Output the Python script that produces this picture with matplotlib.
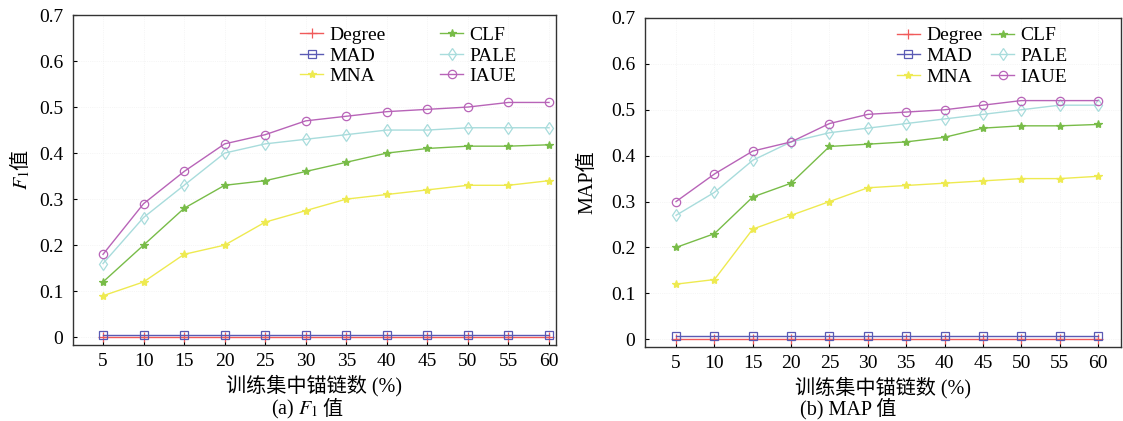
import matplotlib
matplotlib.use('Agg')
import matplotlib.pyplot as plt

plt.rcParams['font.family'] = ['Liberation Serif', 'Noto Sans CJK SC']
plt.rcParams['mathtext.fontset'] = 'stix'

x = [5, 10, 15, 20, 25, 30, 35, 40, 45, 50, 55, 60]

# F1 values
f1_degree = [0, 0, 0, 0, 0, 0, 0, 0, 0, 0, 0, 0]
f1_mad = [0.005] * 12
f1_mna = [0.09, 0.12, 0.18, 0.20, 0.25, 0.275, 0.30, 0.31, 0.32, 0.33, 0.33, 0.34]
f1_clf = [0.12, 0.20, 0.28, 0.33, 0.34, 0.36, 0.38, 0.40, 0.41, 0.415, 0.415, 0.418]
f1_pale = [0.16, 0.26, 0.33, 0.40, 0.42, 0.43, 0.44, 0.45, 0.45, 0.455, 0.455, 0.455]
f1_iaue = [0.18, 0.29, 0.36, 0.42, 0.44, 0.47, 0.48, 0.49, 0.495, 0.50, 0.51, 0.51]

# MAP values
map_degree = [0, 0, 0, 0, 0, 0, 0, 0, 0, 0, 0, 0]
map_mad = [0.006] * 12
map_mna = [0.12, 0.13, 0.24, 0.27, 0.30, 0.33, 0.335, 0.34, 0.345, 0.35, 0.35, 0.355]
map_clf = [0.20, 0.23, 0.31, 0.34, 0.42, 0.425, 0.43, 0.44, 0.46, 0.465, 0.465, 0.468]
map_pale = [0.27, 0.32, 0.39, 0.43, 0.45, 0.46, 0.47, 0.48, 0.49, 0.50, 0.51, 0.51]
map_iaue = [0.30, 0.36, 0.41, 0.43, 0.47, 0.49, 0.495, 0.50, 0.51, 0.52, 0.52, 0.52]

labels = ['Degree', 'MAD', 'MNA', 'CLF', 'PALE', 'IAUE']
colors = ['#f05a5a', '#5a5ab4', '#eeea50', '#78bc48', '#a8dcdc', '#b864b8']
markers = ['+', 's', '*', '*', 'd', 'o']
filled = [True, False, True, True, False, False]

fig = plt.figure(figsize=(11.23, 4.21), dpi=100)
ax1 = fig.add_axes([73/1123, 1-345/421, (556-73)/1123, (345-15)/421])
ax2 = fig.add_axes([645/1123, 1-347/421, (1121-645)/1123, (347-18)/421])


def draw(ax, series, xlim, leg_anchor, colspace):
    for vals, lab, c, m, f in zip(series, labels, colors, markers, filled):
        ax.plot(x, vals, color=c, marker=m, markersize=6 if m != '+' else 7,
                linewidth=1.0, label=lab,
                markerfacecolor=c if f else 'none', markeredgewidth=0.9)
    ax.set_xlim(*xlim)
    ax.set_ylim(-0.017, 0.7)
    ax.set_xticks(x)
    ax.set_yticks([0, 0.1, 0.2, 0.3, 0.4, 0.5, 0.6, 0.7])
    ax.set_yticklabels(['0', '0.1', '0.2', '0.3', '0.4', '0.5', '0.6', '0.7'])
    ax.tick_params(direction='in', labelsize=14, length=3, width=0.8)
    ax.tick_params(axis='y', pad=7)
    ax.tick_params(axis='x', pad=6)
    ax.grid(True, linestyle=':', linewidth=0.5, color='#eeeeee')
    for s in ax.spines.values():
        s.set_linewidth(1.0)
        s.set_color('#333333')
    ax.set_xlabel('训练集中锚链数 (%)', fontsize=14.5, labelpad=3)
    ax.legend(ncol=2, loc='upper left', bbox_to_anchor=leg_anchor, frameon=False,
              fontsize=14, handlelength=1.2, handletextpad=0.3, columnspacing=colspace,
              labelspacing=0.15, borderaxespad=0, borderpad=0)


draw(ax1, [f1_degree, f1_mad, f1_mna, f1_clf, f1_pale, f1_iaue], (1.3, 60.86),
     (0.47, 0.965), 2.8)
draw(ax2, [map_degree, map_mad, map_mna, map_clf, map_pale, map_iaue], (0.95, 63.0),
     (0.529, 0.973), 0.45)

# y labels (F1 is italic math, so the Chinese part is a separate text)
ax1.text(-0.105, 0.53, '$F_1$', rotation=90, ha='center', va='top',
         transform=ax1.transAxes, fontsize=14.5)
ax1.text(-0.105, 0.53, '值', rotation=90, ha='center', va='bottom',
         transform=ax1.transAxes, fontsize=14.5)
ax2.set_ylabel('MAP值', fontsize=14.5)
ax2.yaxis.set_label_coords(-0.1, 0.5)

# captions
fig.text(318/1123, 0.015, '(a) $F_1$', ha='right', fontsize=14.5)
fig.text(318/1123 + 0.004, 0.015, '值', ha='left', fontsize=14.5)
fig.text(848/1123, 0.015, '(b) MAP 值', ha='center', fontsize=14.5)

fig.savefig('out.png', dpi=100)
